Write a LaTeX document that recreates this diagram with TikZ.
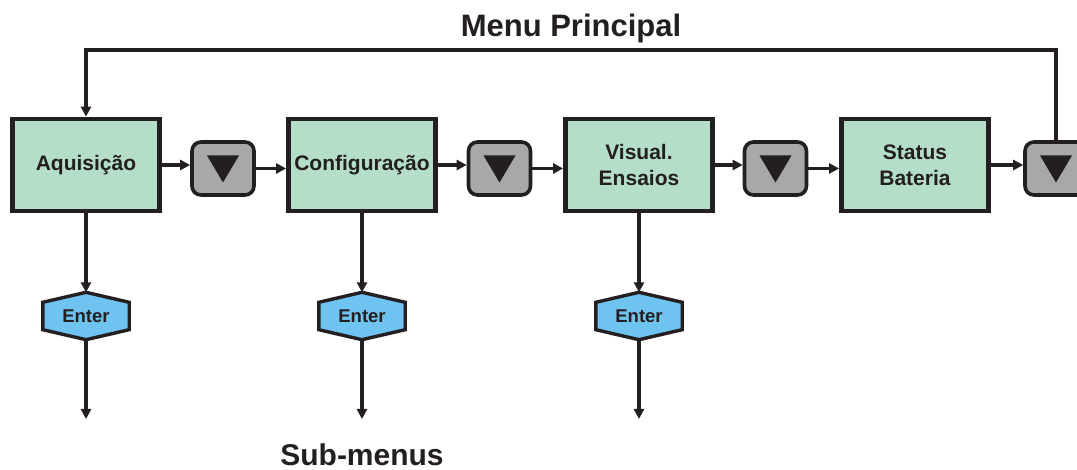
\documentclass[tikz,border=0pt]{standalone}
\usepackage{fontspec}
\setmainfont{Liberation Sans}
\usetikzlibrary{arrows.meta,backgrounds}

\definecolor{ink}{HTML}{231F20}
\definecolor{mint}{HTML}{B5DEC8}
\definecolor{keygray}{HTML}{A8A8A8}
\definecolor{enterblue}{HTML}{6EC3F0}

\tikzset{
  menubox/.style={draw=ink, fill=mint, line width=4.8pt, minimum width=147pt,
    minimum height=92pt, inner sep=0pt, align=center, text=ink,
    font=\bfseries\fontsize{21}{26}\selectfont},
  keybtn/.style={draw=ink, fill=keygray, line width=3.6pt, rounded corners=9pt,
    minimum width=62pt, minimum height=53pt, inner sep=0pt,
    path picture={\fill[ink, sharp corners, shift={(path picture bounding box.center)}]
      (-16,-13) -- (16,-13) -- (0,14) -- cycle;}},
  enterkey/.style={minimum width=86pt, minimum height=47pt, inner sep=0pt,
    text=ink, font=\bfseries\fontsize{18.5}{22}\selectfont},
  hexshape/.style={draw=ink, fill=enterblue, line width=3.4pt, line join=miter},
  link/.style={draw=ink, line width=3.2pt,
    -{Triangle[length=10pt,width=10pt]}},
  title/.style={text=ink, font=\bfseries\fontsize{31}{36}\selectfont, anchor=base}
}

\begin{document}
\begin{tikzpicture}[x=1pt, y=-1pt]
  \clip (0,0) rectangle (1077,470);

  % main menu entries
  \node[menubox] (acq) at (86,165)  {Aquisição};
  \node[menubox] (cfg) at (362,165) {Configuração};
  \node[menubox] (vis) at (639,165) {Visual.\\Ensaios};
  \node[menubox] (bat) at (915,165) {Status\\Bateria};

  % down-arrow keys between entries
  \node[keybtn] (k1) at (223,168.5) {};
  \node[keybtn] (k2) at (499.5,168.5) {};
  \node[keybtn] (k3) at (775.5,168.5) {};
  \node[keybtn] (k4) at (1056,168.5) {};

  % Enter keys below the first three entries
  \node[enterkey] (e1) at (86,316)  {Enter};
  \node[enterkey] (e2) at (362,316) {Enter};
  \node[enterkey] (e3) at (639,316) {Enter};

  \begin{scope}[on background layer]
    \foreach \e in {e1,e2,e3}
      \path[hexshape] (\e.north) -- ([yshift=-10pt]\e.north east)
        -- ([yshift=10pt]\e.south east) -- (\e.south)
        -- ([yshift=10pt]\e.south west) -- ([yshift=-10pt]\e.north west) -- cycle;
  \end{scope}

  % free ends of the sub-menu arrows
  \coordinate (s1) at (86,419);
  \coordinate (s2) at (362,419);
  \coordinate (s3) at (639,419);

  % horizontal chain
  \draw[link] (acq.east) -- (acq.east -| k1.west);
  \draw[link] (k1.east) -- (k1.east -| cfg.west);
  \draw[link] (cfg.east) -- (cfg.east -| k2.west);
  \draw[link] (k2.east) -- (k2.east -| vis.west);
  \draw[link] (vis.east) -- (vis.east -| k3.west);
  \draw[link] (k3.east) -- (k3.east -| bat.west);
  \draw[link] (bat.east) -- (bat.east -| k4.west);

  % return loop to the first entry
  \draw[link] (k4.north) -- (1056,50) -- (86,50) -- (acq.north);

  % sub-menu branches
  \draw[link] (acq.south) -- (e1.north);
  \draw[link] (cfg.south) -- (e2.north);
  \draw[link] (vis.south) -- (e3.north);
  \draw[link] (e1.south) -- (s1);
  \draw[link] (e2.south) -- (s2);
  \draw[link] (e3.south) -- (s3);

  % captions
  \node[title] (menu) at (571,37) {Menu Principal};
  \node[title, font=\bfseries\fontsize{30}{36}\selectfont] (sub) at (362,465) {Sub-menus};
\end{tikzpicture}
\end{document}
